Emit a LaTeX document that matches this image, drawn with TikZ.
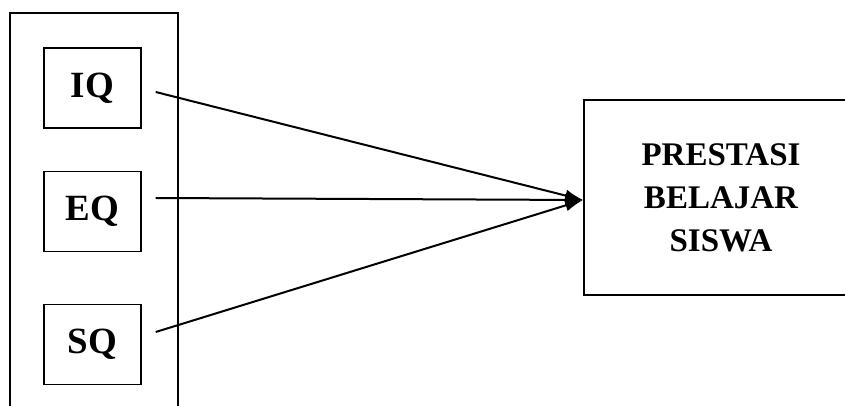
\documentclass[tikz,border=0pt]{standalone}
\usepackage{fontspec}
\setmainfont{Liberation Serif}
\usetikzlibrary{arrows.meta}
\begin{document}
\begin{tikzpicture}[x=1pt,y=-1pt,
  inbox/.style={draw,line width=1.4pt,minimum width=97pt,minimum height=80pt,inner sep=0pt,
    font=\fontsize{37}{40}\selectfont\bfseries},
  bigbox/.style={draw,line width=1.8pt,minimum width=274pt,minimum height=195pt,inner sep=0pt,align=center,
    font=\fontsize{33}{43}\selectfont\bfseries},
  conn/.style={line width=2pt,-{Latex[length=18pt,width=12pt]}}]
\useasboundingbox (0,0) rectangle (845,406);
\clip (0,0) rectangle (845,406);
\fill[white] (0,0) rectangle (845,406);
\draw[line width=2pt] (10,430) -- (10,13) -- (178,13) -- (178,430);
\node[inbox] (iq) at (92.5,88) {IQ};
\node[inbox] (eq) at (92.5,211.5) {EQ};
\node[inbox] (sq) at (92.5,344.5) {SQ};
\node[bigbox] (ps) at (721,197.5) {PRESTASI\\BELAJAR\\SISWA};
\coordinate (a) at ([xshift=14pt,yshift=-4pt]iq.east);
\coordinate (b) at ([xshift=14pt,yshift=13.5pt]eq.east);
\coordinate (c) at ([xshift=14pt,yshift=12.5pt]sq.east);
\coordinate (t) at ([yshift=-2.5pt]ps.west);
\draw[conn] (a) -- (t);
\draw[conn] (b) -- (t);
\draw[conn] (c) -- (t);
\end{tikzpicture}
\end{document}
